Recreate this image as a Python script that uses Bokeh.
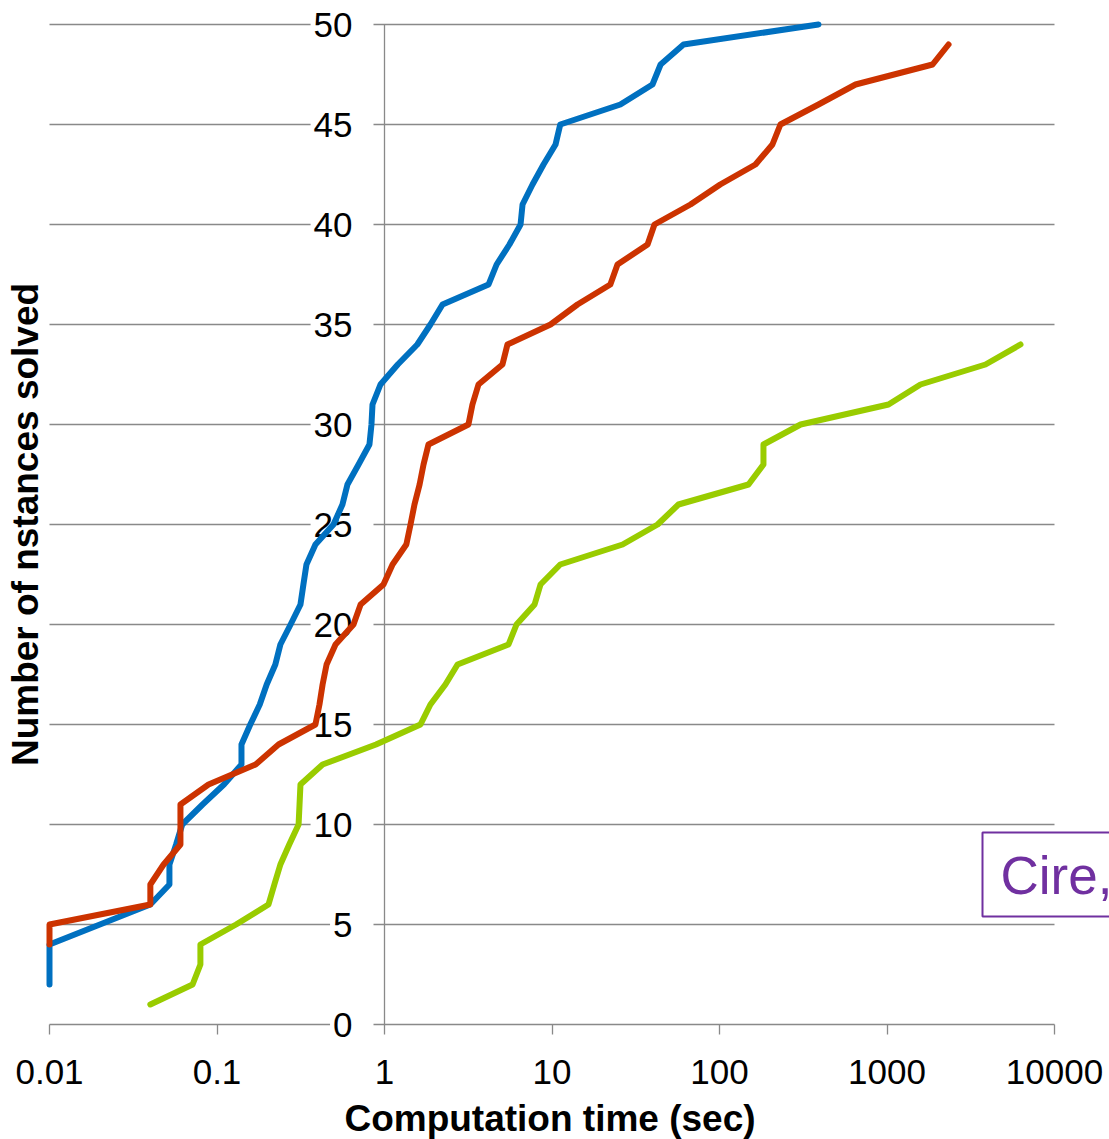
import math
from bokeh.plotting import figure
from bokeh.models import FixedTicker, Label, ColumnDataSource
from bokeh.core.properties import value
from bokeh.embed import file_html
from bokeh.resources import INLINE

# ---- data (computation time in sec, number of instances solved) ----
x_ticks = [0.01, 0.1, 1.0, 10.0, 100.0, 1000.0, 10000.0]
x_tick_labels = ["0.01", "0.1", "1", "10", "100", "1000", "10000"]
y_ticks = [0, 5, 10, 15, 20, 25, 30, 35, 40, 45, 50]
y_tick_labels = ["0", "5", "10", "15", "20", "25", "30", "35", "40", "45", "50"]

blue_time = [0.01, 0.01, 0.04, 0.052, 0.052, 0.057, 0.062, 0.082, 0.11, 0.14, 0.14,
             0.158, 0.18, 0.198, 0.223, 0.239, 0.275, 0.315, 0.328, 0.342, 0.387,
             0.496, 0.561, 0.601, 0.70, 0.813, 0.836, 0.848, 0.946, 1.20, 1.57,
             1.88, 2.22, 4.18, 4.67, 5.57, 6.49, 6.67, 7.65, 8.90, 10.5, 11.2,
             25.6, 39.8, 44.5, 61.0, 390.0]
blue_solved = [2, 4, 6, 7, 8, 9, 10, 11, 12, 13, 14,
               15, 16, 17, 18, 19, 20, 21, 22, 23, 24,
               25, 26, 27, 28, 29, 30, 31, 32, 33, 34,
               35, 36, 37, 38, 39, 40, 41, 42, 43, 44, 45,
               46, 47, 48, 49, 50]

red_time = [0.01, 0.01, 0.04, 0.04, 0.048, 0.0605, 0.0605, 0.0605, 0.089, 0.170,
            0.233, 0.387, 0.409, 0.427, 0.451, 0.510, 0.653, 0.720, 0.986, 1.117,
            1.35, 1.43, 1.51, 1.62, 1.71, 1.83, 3.17, 3.35, 3.64, 5.06,
            5.42, 9.8, 14.2, 22.3, 24.6, 37.2, 40.9, 67.1, 101.0, 164.0,
            207.0, 231.0, 390.0, 649.0, 1871.0, 2330.0]
red_solved = [4, 5, 6, 7, 8, 9, 10, 11, 12, 13,
              14, 15, 16, 17, 18, 19, 20, 21, 22, 23,
              24, 25, 26, 27, 28, 29, 30, 31, 32, 33,
              34, 35, 36, 37, 38, 39, 40, 41, 42, 43,
              44, 45, 46, 47, 48, 49]

green_time = [0.04, 0.0715, 0.0796, 0.0796, 0.13, 0.203, 0.220, 0.239, 0.27, 0.307,
              0.311, 0.315, 0.427, 0.89, 1.64, 1.88, 2.31, 2.73, 5.50, 6.14,
              7.87, 8.54, 11.2, 26.4, 42.7, 56.9, 149.0, 183.0, 183.0, 305.0,
              1021.0, 1585.0, 3873.0, 6266.0]
green_solved = [1, 2, 3, 4, 5, 6, 7, 8, 9, 10,
                11, 12, 13, 14, 15, 16, 17, 18, 19, 20,
                21, 22, 23, 24, 25, 26, 27, 28, 29, 30,
                31, 32, 33, 34]

x_title = "Computation time (sec)"
y_title = "Number of nstances solved"
note_text = "Cire,"

# ---- layout (pixels) ----
W, H = 1109, 1139
PLOT_L, PLOT_R, PLOT_T, PLOT_B = 49, 1054, 24, 1024
FONT = "Liberation Sans"
GRID = "#898989"

# the frame fills the whole canvas; ranges widened so the
# 0.01..10000 x 0..50 region sits at the plot-area pixels
x_lo, x_hi = math.log10(x_ticks[0]), math.log10(x_ticks[-1])
dec_px = (PLOT_R - PLOT_L) / (x_hi - x_lo)
y_lo, y_hi = y_ticks[0], y_ticks[-1]
unit_px = (PLOT_B - PLOT_T) / (y_hi - y_lo)
x_range = (10 ** (x_lo - PLOT_L / dec_px), 10 ** (x_hi + (W - PLOT_R) / dec_px))
y_range = (y_lo - (H - PLOT_B) / unit_px, y_hi + PLOT_T / unit_px)

p = figure(width=W, height=H, x_axis_type="log",
           x_range=x_range, y_range=y_range,
           output_backend="svg", toolbar_location=None,
           min_border_left=0, min_border_right=0,
           min_border_top=0, min_border_bottom=0)
p.outline_line_color = None
p.background_fill_color = "white"
p.border_fill_color = "white"
p.xgrid.visible = False
p.ygrid.visible = False
p.yaxis.visible = False

# horizontal grid lines over the plot area
p.segment(x0=[x_ticks[0]] * len(y_ticks), x1=[x_ticks[-1]] * len(y_ticks),
          y0=y_ticks, y1=y_ticks, line_color=GRID, line_width=1.3,
          level="underlay")
# vertical axis line crossing at x = 1
p.segment(x0=[1.0], x1=[1.0], y0=[y_lo], y1=[y_hi], line_color=GRID,
          line_width=1.3, level="underlay")

# bottom axis fixed at y = 0
p.xaxis.fixed_location = y_lo
p.xaxis.ticker = FixedTicker(ticks=x_ticks)
p.xaxis.major_label_overrides = dict(zip(x_ticks, x_tick_labels))
p.xaxis.axis_line_color = None
p.xaxis.major_tick_out = 10
p.xaxis.major_tick_in = 0
p.xaxis.minor_tick_out = 0
p.xaxis.minor_tick_in = 0
p.xaxis.major_tick_line_color = GRID
p.xaxis.major_tick_line_width = 1.3
p.xaxis.major_label_text_font = FONT
p.xaxis.major_label_text_font_size = "35px"
p.xaxis.major_label_text_color = "black"
p.xaxis.major_label_standoff = 25

# axis titles
p.add_layout(Label(x=(PLOT_L + PLOT_R) / 2 - 2, y=H - 1118,
                   x_units="screen", y_units="screen", text=x_title,
                   text_font=FONT, text_font_style="bold",
                   text_font_size="37px", text_color="black",
                   text_align="center", text_baseline="alphabetic"))
p.add_layout(Label(x=25, y=H - (PLOT_T + PLOT_B) / 2,
                   x_units="screen", y_units="screen", text=y_title,
                   angle=math.pi / 2,
                   text_font=FONT, text_font_style="bold",
                   text_font_size="37px", text_color="black",
                   text_align="center", text_baseline="alphabetic"))

# y tick labels next to the crossing axis (white boxes hide the grid)
ylab = ColumnDataSource(dict(x=[1.0] * len(y_ticks), y=y_ticks, t=y_tick_labels))
p.text(x="x", y="y", text="t", source=ylab, x_offset=-11,
       text_font=value(FONT), text_font_size=value("35px"), text_color="black",
       text_align="right", text_baseline="middle",
       background_fill_color="white",
       padding=dict(left=3, right=21, top=0, bottom=0))

# series
p.line(blue_time, blue_solved, line_color="#0070C0", line_width=6,
       line_join="round", line_cap="round")
p.line(red_time, red_solved, line_color="#CC3300", line_width=6,
       line_join="round", line_cap="round")
p.line(green_time, green_solved, line_color="#99CC00", line_width=6,
       line_join="round", line_cap="round")

# note box, cut by the right edge of the page
p.add_layout(Label(x=982, y=H - 916, x_units="screen", y_units="screen",
                   text=note_text, text_font=FONT,
                   text_font_size="53px", text_color="#7030A0",
                   text_align="left", text_baseline="bottom",
                   background_fill_color="white",
                   border_line_color="#7030A0", border_line_width=2,
                   padding=dict(left=18, right=80, top=13, bottom=12)))

open("out.html", "w").write(file_html(p, INLINE))
